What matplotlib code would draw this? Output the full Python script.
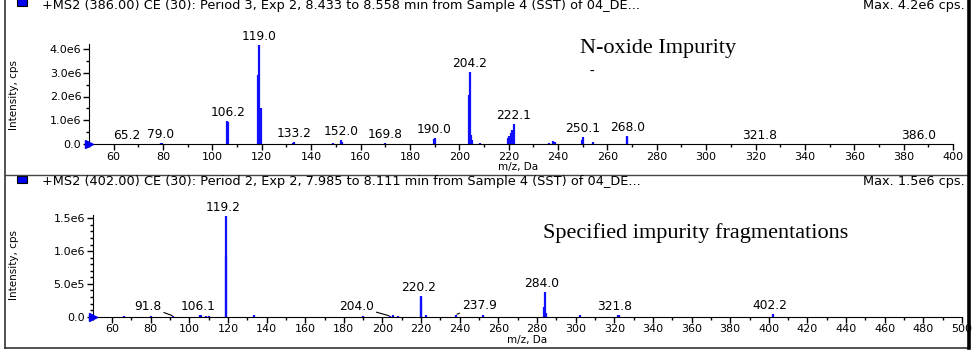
import numpy as np
import matplotlib.pyplot as plt
from matplotlib.patches import Rectangle
from matplotlib.ticker import FixedLocator, MultipleLocator

# Spectre MS2 du haut (N-oxide), intensités en cps
top_mz = [65.2, 79.0, 79.6, 105.9, 106.2, 118.6, 119.0, 119.5, 132.8, 133.2,
          149.0, 152.0, 152.4, 169.8, 189.7, 190.0, 203.8, 204.2, 204.6, 205.2,
          208.5, 219.8, 220.3, 220.8, 221.4, 222.1, 236.5, 237.8, 238.6, 249.8,
          250.1, 254.2, 267.8, 268.0, 321.8, 386.0]
top_int = [0.02e6, 0.05e6, 0.04e6, 0.98e6, 0.92e6, 2.92e6, 4.15e6, 1.5e6, 0.06e6, 0.10e6,
           0.06e6, 0.15e6, 0.08e6, 0.05e6, 0.20e6, 0.27e6, 2.05e6, 3.05e6, 0.40e6, 0.15e6,
           0.06e6, 0.25e6, 0.35e6, 0.45e6, 0.60e6, 0.85e6, 0.05e6, 0.12e6, 0.08e6, 0.15e6,
           0.30e6, 0.08e6, 0.30e6, 0.35e6, 0.02e6, 0.02e6]
top_labels = ["65.2", "79.0", "106.2", "119.0", "133.2", "152.0", "169.8", "190.0",
              "204.2", "222.1", "250.1", "268.0", "321.8", "386.0"]
top_label_mz = [65.2, 79.0, 106.2, 119.0, 133.2, 152.0, 169.8, 190.0,
                204.2, 222.1, 250.1, 268.0, 321.8, 386.0]
top_label_int = [0.02e6, 0.05e6, 0.98e6, 4.15e6, 0.10e6, 0.15e6, 0.05e6, 0.27e6,
                 3.05e6, 0.85e6, 0.30e6, 0.35e6, 0.02e6, 0.02e6]

# Spectre MS2 du bas (impureté spécifiée)
bot_mz = [66.0, 80.0, 91.8, 105.3, 106.1, 108.5, 110.0, 118.8, 119.2, 133.5,
          190.0, 204.0, 205.5, 208.0, 220.0, 220.2, 222.5, 237.9, 252.0, 283.6,
          284.0, 284.6, 302.0, 321.8, 322.5, 402.2]
bot_int = [0.005e6, 0.01e6, 0.01e6, 0.03e6, 0.02e6, 0.015e6, 0.01e6, 0.92e6, 1.53e6, 0.02e6,
           0.01e6, 0.01e6, 0.02e6, 0.01e6, 0.30e6, 0.32e6, 0.02e6, 0.03e6, 0.02e6, 0.15e6,
           0.37e6, 0.05e6, 0.02e6, 0.02e6, 0.02e6, 0.04e6]
bot_labels = ["91.8", "106.1", "119.2", "204.0", "220.2", "237.9", "284.0", "321.8", "402.2"]
bot_label_mz = [91.8, 106.1, 119.2, 204.0, 220.2, 237.9, 284.0, 321.8, 402.2]
bot_label_int = [0.01e6, 0.03e6, 1.53e6, 0.01e6, 0.32e6, 0.03e6, 0.37e6, 0.02e6, 0.04e6]
bot_leader_dx = [-26, 0, 0, -34, 0, 24, 0, 0, 0]

top_yticks = [0, 1e6, 2e6, 3e6, 4e6]
top_yticklabels = ["0.0", "1.0e6", "2.0e6", "3.0e6", "4.0e6"]
bot_yticks = [0, 0.5e6, 1e6, 1.5e6]
bot_yticklabels = ["0.0", "5.0e5", "1.0e6", "1.5e6"]

BLUE = "#1010ff"
W, H = 976, 355
fig = plt.figure(figsize=(W / 100, H / 100), dpi=100)
plt.rcParams['font.family'] = 'DejaVu Sans'

# cadre et en-têtes (coordonnées pixels)
bg = fig.add_axes([0, 0, 1, 1], zorder=0)
bg.set_xlim(0, W)
bg.set_ylim(H, 0)
bg.axis('off')
bg.plot([5, 5], [0, 348], color='#333333', lw=1.2)
bg.plot([5, 969], [348, 348], color='#333333', lw=1.2)
bg.plot([5, 968], [175, 175], color='#444444', lw=1.0)
bg.plot([968.5, 968.5], [0, 348], color='black', lw=2.6)
for y0 in (-1, 176):
    bg.add_patch(Rectangle((17, y0), 10, 7, facecolor='#0000ee', edgecolor='black', lw=0.8))

hdr = dict(fontsize=9.3, va='center')
bg.text(42, 6, "+MS2 (386.00) CE (30): Period 3, Exp 2, 8.433 to 8.558 min from Sample 4 (SST) of 04_DE...", **hdr)
bg.text(965, 6, "Max. 4.2e6 cps.", ha='right', **hdr)
bg.text(42, 182, "+MS2 (402.00) CE (30): Period 2, Exp 2, 7.985 to 8.111 min from Sample 4 (SST) of 04_DE...", **hdr)
bg.text(965, 182, "Max. 1.5e6 cps.", ha='right', **hdr)

bg.text(14, 95, "Intensity, cps", rotation=90, ha='center', va='center', fontsize=7.5)
bg.text(14, 265, "Intensity, cps", rotation=90, ha='center', va='center', fontsize=7.5)
bg.text(518, 167, "m/z, Da", ha='center', va='center', fontsize=7.5)
bg.text(527, 340, "m/z, Da", ha='center', va='center', fontsize=7.5)

serif = ['Liberation Serif', 'DejaVu Serif']
bg.text(580, 49, "N-oxide Impurity", family=serif, fontsize=16, va='center')
bg.text(589, 71, "-", family=serif, fontsize=10, va='center')
bg.text(543, 233, "Specified impurity fragmentations", family=serif, fontsize=16, va='center')


def setup(ax, xmax, ymax, yticks, yticklabels, yminor):
    ax.set_xlim(50, xmax)
    ax.set_ylim(0, ymax)
    ax.patch.set_alpha(0)
    for s in ('top', 'right'):
        ax.spines[s].set_visible(False)
    ax.xaxis.set_major_locator(FixedLocator(np.arange(60, xmax + 1, 20)))
    ax.xaxis.set_minor_locator(MultipleLocator(10))
    ax.set_yticks(yticks)
    ax.set_yticklabels(yticklabels)
    ax.yaxis.set_minor_locator(MultipleLocator(yminor))
    ax.tick_params(which='major', length=4, width=1, labelsize=8, pad=1.5)
    ax.tick_params(which='minor', length=2, width=1)
    ax.plot([50], [0], marker='>', color='#0000ee', markersize=6, clip_on=False, zorder=5)


# panneau du haut
ax1 = fig.add_axes([89 / W, (H - 144) / H, (953 - 89) / W, 99.75 / H], zorder=1)
setup(ax1, 400, 4.2e6, top_yticks, top_yticklabels, 0.5e6)
ax1.vlines(top_mz, 0, top_int, color=BLUE, lw=1.6, clip_on=False)
for lab, x, y in zip(top_labels, top_label_mz, top_label_int):
    ax1.annotate(lab, (x, y), xytext=(0, 2), textcoords='offset pixels',
                 ha='center', va='bottom', fontsize=8.8, annotation_clip=False)

# panneau du bas
ax2 = fig.add_axes([92.7 / W, (H - 316.7) / H, (962 - 92.7) / W, 101.7 / H], zorder=1)
setup(ax2, 500, 1.55e6, bot_yticks, bot_yticklabels, 0.1e6)
ax2.vlines(bot_mz, 0, bot_int, color=BLUE, lw=1.6, clip_on=False)
for lab, x, y, dx in zip(bot_labels, bot_label_mz, bot_label_int, bot_leader_dx):
    if dx == 0:
        ax2.annotate(lab, (x, y), xytext=(-3, 2), textcoords='offset pixels',
                     ha='center', va='bottom', fontsize=8.8, annotation_clip=False)
    else:
        ax2.annotate(lab, (x, y), xytext=(dx, 3), textcoords='offset pixels',
                     ha='center', va='bottom', fontsize=8.8, annotation_clip=False,
                     arrowprops=dict(arrowstyle='-', color='black', lw=0.8,
                                     shrinkA=0, shrinkB=1))

fig.savefig("out.png", dpi=100)
